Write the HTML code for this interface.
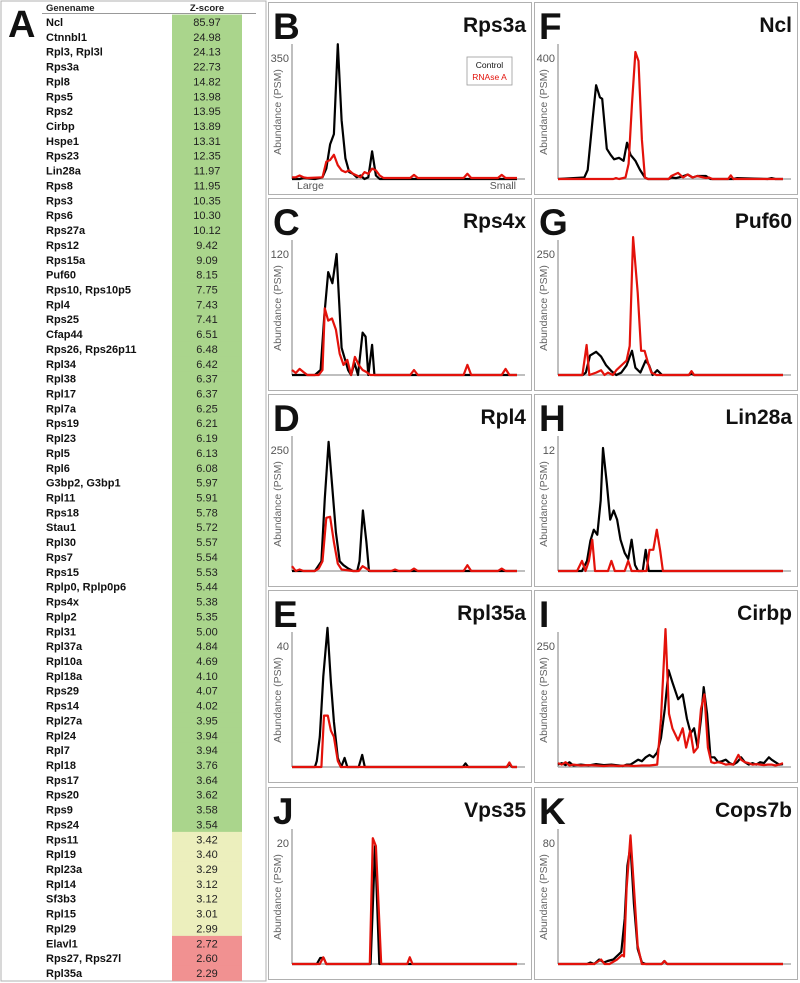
<!DOCTYPE html>
<html><head><meta charset="utf-8">
<style>
html,body{margin:0;padding:0;background:#fff;}
svg{display:block;font-family:"Liberation Sans",sans-serif;}
</style></head>
<body>
<svg id="fig" width="800" height="983" viewBox="0 0 800 983" xmlns="http://www.w3.org/2000/svg"></svg>
<script>
// ---------- Table data ----------
const geneNames = ["Ncl","Ctnnbl1","Rpl3, Rpl3l","Rps3a","Rpl8","Rps5","Rps2","Cirbp","Hspe1","Rps23","Lin28a","Rps8","Rps3","Rps6","Rps27a","Rps12","Rps15a","Puf60","Rps10, Rps10p5","Rpl4","Rps25","Cfap44","Rps26, Rps26p11","Rpl34","Rpl38","Rpl17","Rpl7a","Rps19","Rpl23","Rpl5","Rpl6","G3bp2, G3bp1","Rpl11","Rps18","Stau1","Rpl30","Rps7","Rps15","Rplp0, Rplp0p6","Rps4x","Rplp2","Rpl31","Rpl37a","Rpl10a","Rpl18a","Rps29","Rps14","Rpl27a","Rpl24","Rpl7","Rpl18","Rps17","Rps20","Rps9","Rps24","Rps11","Rpl19","Rpl23a","Rpl14","Sf3b3","Rpl15","Rpl29","Elavl1","Rps27, Rps27l","Rpl35a"];
const zScores = ["85.97","24.98","24.13","22.73","14.82","13.98","13.95","13.89","13.31","12.35","11.97","11.95","10.35","10.30","10.12","9.42","9.09","8.15","7.75","7.43","7.41","6.51","6.48","6.42","6.37","6.37","6.25","6.21","6.19","6.13","6.08","5.97","5.91","5.78","5.72","5.57","5.54","5.53","5.44","5.38","5.35","5.00","4.84","4.69","4.10","4.07","4.02","3.95","3.94","3.94","3.76","3.64","3.62","3.58","3.54","3.42","3.40","3.29","3.12","3.12","3.01","2.99","2.72","2.60","2.29"];

// ---------- Chart data (x = fraction index 0..59, y = PSM) ----------
const fractionCount = 60;
const B_ctrl_x=[0,2,3,6,8,9,10,11,12,13,14,15,16,17,18,19,20,21,22,23,59];
const B_ctrl_y=[0,0,3,0,5,30,100,130,390,170,60,20,15,5,10,0,5,80,10,0,0];
const B_rna_x=[0,1,2,3,4,8,9,10,11,12,13,14,15,16,17,18,19,20,21,22,23,24,31,32,33,45,46,47,54,55,56,59];
const B_rna_y=[5,5,10,5,3,5,50,55,70,40,25,20,25,15,10,5,20,15,30,25,10,3,3,12,3,3,15,3,3,12,3,3];

const C_ctrl_x=[0,6,7.5,8.5,9.5,10.6,11.7,13,14.7,15.5,16.4,17.3,18.5,19.3,20,21,21.6,59];
const C_ctrl_y=[0,0,5,60,102,91,120,27,5,0,12,0,42,38,0,30,0,0];
const C_rna_x=[0,1,2,3,4,7,8,8.6,9.5,10.5,11.5,12.5,13.5,14.5,15.5,16.5,17.5,18.5,19.5,20.5,31,32,33,45,46,47,55,56,57,59];
const C_rna_y=[5,2,6,3,0,0,5,66,54,56,45,21,10,15,0,18,10,5,3,0,0,5,0,0,10,0,0,6,0,0];

const D_ctrl_x=[0,6,7.7,8.6,9.6,10.5,11.5,12.5,13.5,14.8,16,17.1,17.7,18.6,19.5,20.2,59];
const D_ctrl_y=[0,0,20,150,267,180,80,20,12,5,0,0,20,125,60,0,0];
const D_rna_x=[0,1,2,3,6,7,8,9,10,11,12,13,16,17.5,18.5,19.5,20.5,26,27,28,31,32,33,45,46,47,54,55,56,59];
const D_rna_y=[10,0,3,0,0,5,20,110,112,60,15,3,0,0,10,5,0,0,3,0,0,5,0,0,12,0,0,5,0,0];

const E_ctrl_x=[0,6,6.5,7.3,8.2,9.3,10.2,11,12,12.9,13.8,14.5,17.5,18.4,19.1,44.8,45.5,46.2,56.3,57,57.7,59];
const E_ctrl_y=[0,0,2,10,30,46,28,15,3,0,3,0,0,4,0,0,1.2,0,0,1,0,0];
const E_rna_x=[0,7.7,8.4,9.4,10.2,11,12,12.8,56.3,57,57.7,59];
const E_rna_y=[0,0,17,17,12,10,2,0,0,1.5,0,0];

const F_ctrl_x=[0,6.9,7.8,9.1,10,11,11.6,12.8,13.8,14.7,16,17.2,18.1,19,20.3,21.5,22.8,23.6,29,29.7,31,32.5,34,35.3,36.5,38.8,40,46,47,55,56,57,59];
const F_ctrl_y=[0,5,30,200,310,270,265,100,80,65,70,60,120,80,60,30,5,0,0,5,3,8,15,5,10,10,0,0,3,0,3,0,0];
const F_rna_x=[0,14.5,15.2,16,17.7,18.5,19.4,20.3,21.1,22,22.8,23.6,29,29.7,31.5,32.8,34,35.3,36.5,38.8,39.6,40.5,44.6,45.3,46,59];
const F_rna_y=[0,0,3,0,5,50,250,420,390,130,5,0,0,10,20,5,15,5,10,3,5,0,0,12,0,0];

const G_ctrl_x=[0,6.5,7.3,8.4,10,11.3,12.6,14,15.3,16.6,18,19.4,20.3,21.6,23,23.9,24.8,26,27.3,34.3,35,35.7,59];
const G_ctrl_y=[0,0,5,40,48,38,20,8,0,5,20,50,15,5,30,20,0,10,0,0,3,0,0];
const G_rna_x=[0,6.4,7.5,8.2,10,11.3,12.2,13.1,14.4,15.3,18,18.8,19.7,20.9,21.8,22.7,23.6,24.5,25.8,34.3,35,35.7,59];
const G_rna_y=[0,0,62,0,5,10,0,5,0,10,30,60,285,170,50,50,25,5,0,0,8,0,0];

const H_ctrl_x=[0,6.3,7.6,8.5,9.4,10.3,11.2,11.8,12.8,13.7,14.6,15.5,16.4,17.5,18.4,19.3,20.2,21,22.2,23,23.8,59];
const H_ctrl_y=[0,0,1,3,4.1,3.6,7,12.2,8.7,5.1,6,5.1,3.1,1.8,1.2,3.1,0.6,0,0,2.1,0,0];
const H_rna_x=[0,5,6.3,7.2,8.1,9,9.7,13.1,14,14.9,17.5,18.4,19.3,23.2,24,25,25.9,26.8,27.5,59];
const H_rna_y=[0,0,1,0,1,3.1,0,0,1,0,0,1,0,0,2.1,2.1,4.1,2,0,0];

const I_ctrl_x=[0,1,2,3,4,6,8,10,12,14,16,17,18,19,20,21,22,23,24,25,26,27,28,29,30,31.5,32.7,33.8,34.8,35.7,36.6,37.5,38.2,39.1,40,41,42,43,44,45,46,47,48,49,50,51,52,53,54,55.3,56,57,58,59];
const I_ctrl_y=[5,8,4,10,3,5,3,6,4,5,3,2,5,5,10,15,12,20,25,20,30,60,120,200,175,140,150,100,70,80,40,100,165,110,20,20,10,12,15,8,5,10,20,10,5,8,5,10,8,20,15,10,5,6];
const I_rna_x=[0,1,2,3,4,6,8,10,12,14,16,18,20,22,24,26,27,28.2,29.1,30,31.5,32.7,33.6,34.7,35.6,36.6,37.5,38.4,39.3,40.2,41,42,43,44,45,46,47.3,48,49,50,51,52,53,54,55,56,57,58,59];
const I_rna_y=[8,5,10,3,5,3,4,3,2,3,2,3,2,3,3,5,100,285,110,80,55,80,40,75,30,40,120,150,40,10,8,10,8,5,6,5,25,15,10,8,5,6,5,4,5,5,3,5,8];

const J_ctrl_x=[0,6.5,7.4,8.3,9,20.6,21.8,22.9,59];
const J_ctrl_y=[0,0,1,1,0,0,19.5,0,0];
const J_rna_x=[0,7.3,8.2,9,20.4,21.2,22,23.4,30.2,30.9,31.6,59];
const J_rna_y=[0,0,1.1,0,0,20.8,19.5,0,0,1.1,0,0];

const K_ctrl_x=[0,7.6,8.5,9.5,10.8,12,13,14.5,16.6,17.5,18.2,19,19.9,20.9,22,23,27.2,27.9,28.6,59];
const K_ctrl_y=[0,0,1,0,3,1,2,3,8,30,65,78,40,10,1,0,0,2,0,0];
const K_rna_x=[0,9.5,11.3,12.2,13.5,15.5,16.8,17.3,18,19,19.8,20.9,22,27.2,27.9,28.6,59];
const K_rna_y=[0,0,3,0,0,3,6,5,50,85,55,12,0,0,2,0,0];

const panelLetters=["B","C","D","E","J","F","G","H","I","K"];
const panelTitles=["Rps3a","Rps4x","Rpl4","Rpl35a","Vps35","Ncl","Puf60","Lin28a","Cirbp","Cops7b"];
const panelTicks=[350,120,250,40,20,400,250,12,250,80];
const ctrlXs=[B_ctrl_x,C_ctrl_x,D_ctrl_x,E_ctrl_x,J_ctrl_x,F_ctrl_x,G_ctrl_x,H_ctrl_x,I_ctrl_x,K_ctrl_x];
const ctrlYs=[B_ctrl_y,C_ctrl_y,D_ctrl_y,E_ctrl_y,J_ctrl_y,F_ctrl_y,G_ctrl_y,H_ctrl_y,I_ctrl_y,K_ctrl_y];
const rnaXs=[B_rna_x,C_rna_x,D_rna_x,E_rna_x,J_rna_x,F_rna_x,G_rna_x,H_rna_x,I_rna_x,K_rna_x];
const rnaYs=[B_rna_y,C_rna_y,D_rna_y,E_rna_y,J_rna_y,F_rna_y,G_rna_y,H_rna_y,I_rna_y,K_rna_y];

const NS="http://www.w3.org/2000/svg";
const svg=document.getElementById('fig');
function mk(tag,attrs,parent){const e=document.createElementNS(NS,tag);for(const k in attrs)e.setAttribute(k,attrs[k]);(parent||svg).appendChild(e);return e;}

// ---------- Table ----------
const tbl=mk('g',{});


const frame=mk('rect',{x:1,y:1,width:265,height:980,fill:'none',stroke:'#b0b0b0','stroke-width':1},tbl);


const lA=mk('text',{x:8,y:37,'font-size':38,'font-weight':'bold',fill:'#111'},tbl);lA.textContent='A';


const h1=mk('text',{x:46,y:11,'font-size':9.5,'font-weight':'bold',fill:'#222'},tbl);h1.textContent='Genename';


const h2=mk('text',{x:207,y:11,'font-size':9.5,'font-weight':'bold',fill:'#222','text-anchor':'middle'},tbl);h2.textContent='Z-score';


mk('line',{x1:42,y1:13.5,x2:256,y2:13.5,stroke:'#777','stroke-width':0.8},tbl);
const rowH=14.86, row0=22;
for(let i=0;i<geneNames.length;i++){
  const cy=row0+i*rowH;
  const col=i<=54?'#aad58c':(i<=61?'#ecefbd':'#f19191');
  const cell=mk('rect',{x:172,y:cy-rowH/2,width:70,height:rowH+0.4,fill:col},tbl);
  
  
  const n=mk('text',{x:46,y:cy+4,'font-size':11,'font-weight':'bold',fill:'#111'},tbl);n.textContent=geneNames[i];
  
  
  const z=mk('text',{x:207,y:cy+4,'font-size':11,fill:'#222','text-anchor':'middle'},tbl);z.textContent=zScores[i];
  
  
}

// ---------- Panels ----------
const tops=[2,198,394,590,787];
for(let p=0;p<10;p++){
  const col=p<5?0:1, row=p%5;
  const L=col===0?268:534, W=col===0?263:263, T=tops[row], H=192;
  const g=mk('g',{});
  
  
  const fr=mk('rect',{x:L+0.5,y:T+0.5,width:W,height:H,fill:'#fff',stroke:'#b0b0b0','stroke-width':1},g);
  
  
  const lt=mk('text',{x:L+5,y:T+37,'font-size':37,'font-weight':'bold',fill:'#111'},g);lt.textContent=panelLetters[p];
  
  
  const tt=mk('text',{x:L+W-5,y:T+30,'font-size':21,'font-weight':'bold',fill:'#111','text-anchor':'end'},g);tt.textContent=panelTitles[p];
  
  
  const ax0=L+24, ax1=L+W-6, yTop=T+42, yBase=T+177;
  const tickY=T+56;
  const tickVal=panelTicks[p];
  const yMax=tickVal*(yBase-yTop)/(yBase-tickY);
  const xs=v=>ax0+(v/(fractionCount-1))*(ax1-ax0-8);
  const ys=v=>yBase-(v/yMax)*(yBase-yTop);
  const yax=mk('line',{x1:ax0,y1:yTop,x2:ax0,y2:yBase,stroke:'#aaa','stroke-width':1.5},g);
  
  
  const xax=mk('line',{x1:ax0,y1:yBase,x2:ax1,y2:yBase,stroke:'#aaa','stroke-width':1.5},g);
  
  
  const tl=mk('text',{x:ax0-3,y:ys(tickVal)+4,'font-size':11,fill:'#555','text-anchor':'end'},g);tl.textContent=String(tickVal);
  
  
  const yt=mk('text',{x:0,y:0,'font-size':10.5,fill:'#666','text-anchor':'middle',transform:`translate(${ax0-11},${T+110}) rotate(-90)`},g);yt.textContent='Abundance (PSM)';
  
  
  const toPts=(X,Y)=>X.map((x,i)=>xs(x).toFixed(1)+','+ys(Y[i]).toFixed(1)).join(' ');
  const lc=mk('polyline',{points:toPts(ctrlXs[p],ctrlYs[p]),fill:'none',stroke:'#000','stroke-width':2.2,'stroke-linejoin':'round'},g);
  
  
  const lr=mk('polyline',{points:toPts(rnaXs[p],rnaYs[p]),fill:'none',stroke:'#e3120b','stroke-width':2.2,'stroke-linejoin':'round'},g);
  
  
  if(p===0){
    const lg=mk('rect',{x:467,y:57,width:45,height:28,fill:'#fff',stroke:'#999','stroke-width':0.8},g);
    
    
    const l1=mk('text',{x:489.5,y:68,'font-size':8.5,fill:'#111','text-anchor':'middle'},g);l1.textContent='Control';
    
    
    const l2=mk('text',{x:489.5,y:80,'font-size':8.5,fill:'#e3120b','text-anchor':'middle'},g);l2.textContent='RNAse A';
    
    
    const xl=mk('text',{x:297,y:189,'font-size':10.5,fill:'#555'},g);xl.textContent='Large';
    
    
    const xr=mk('text',{x:516,y:189,'font-size':10.5,fill:'#555','text-anchor':'end'},g);xr.textContent='Small';
    
    
  }
}
</script>
</body></html>
